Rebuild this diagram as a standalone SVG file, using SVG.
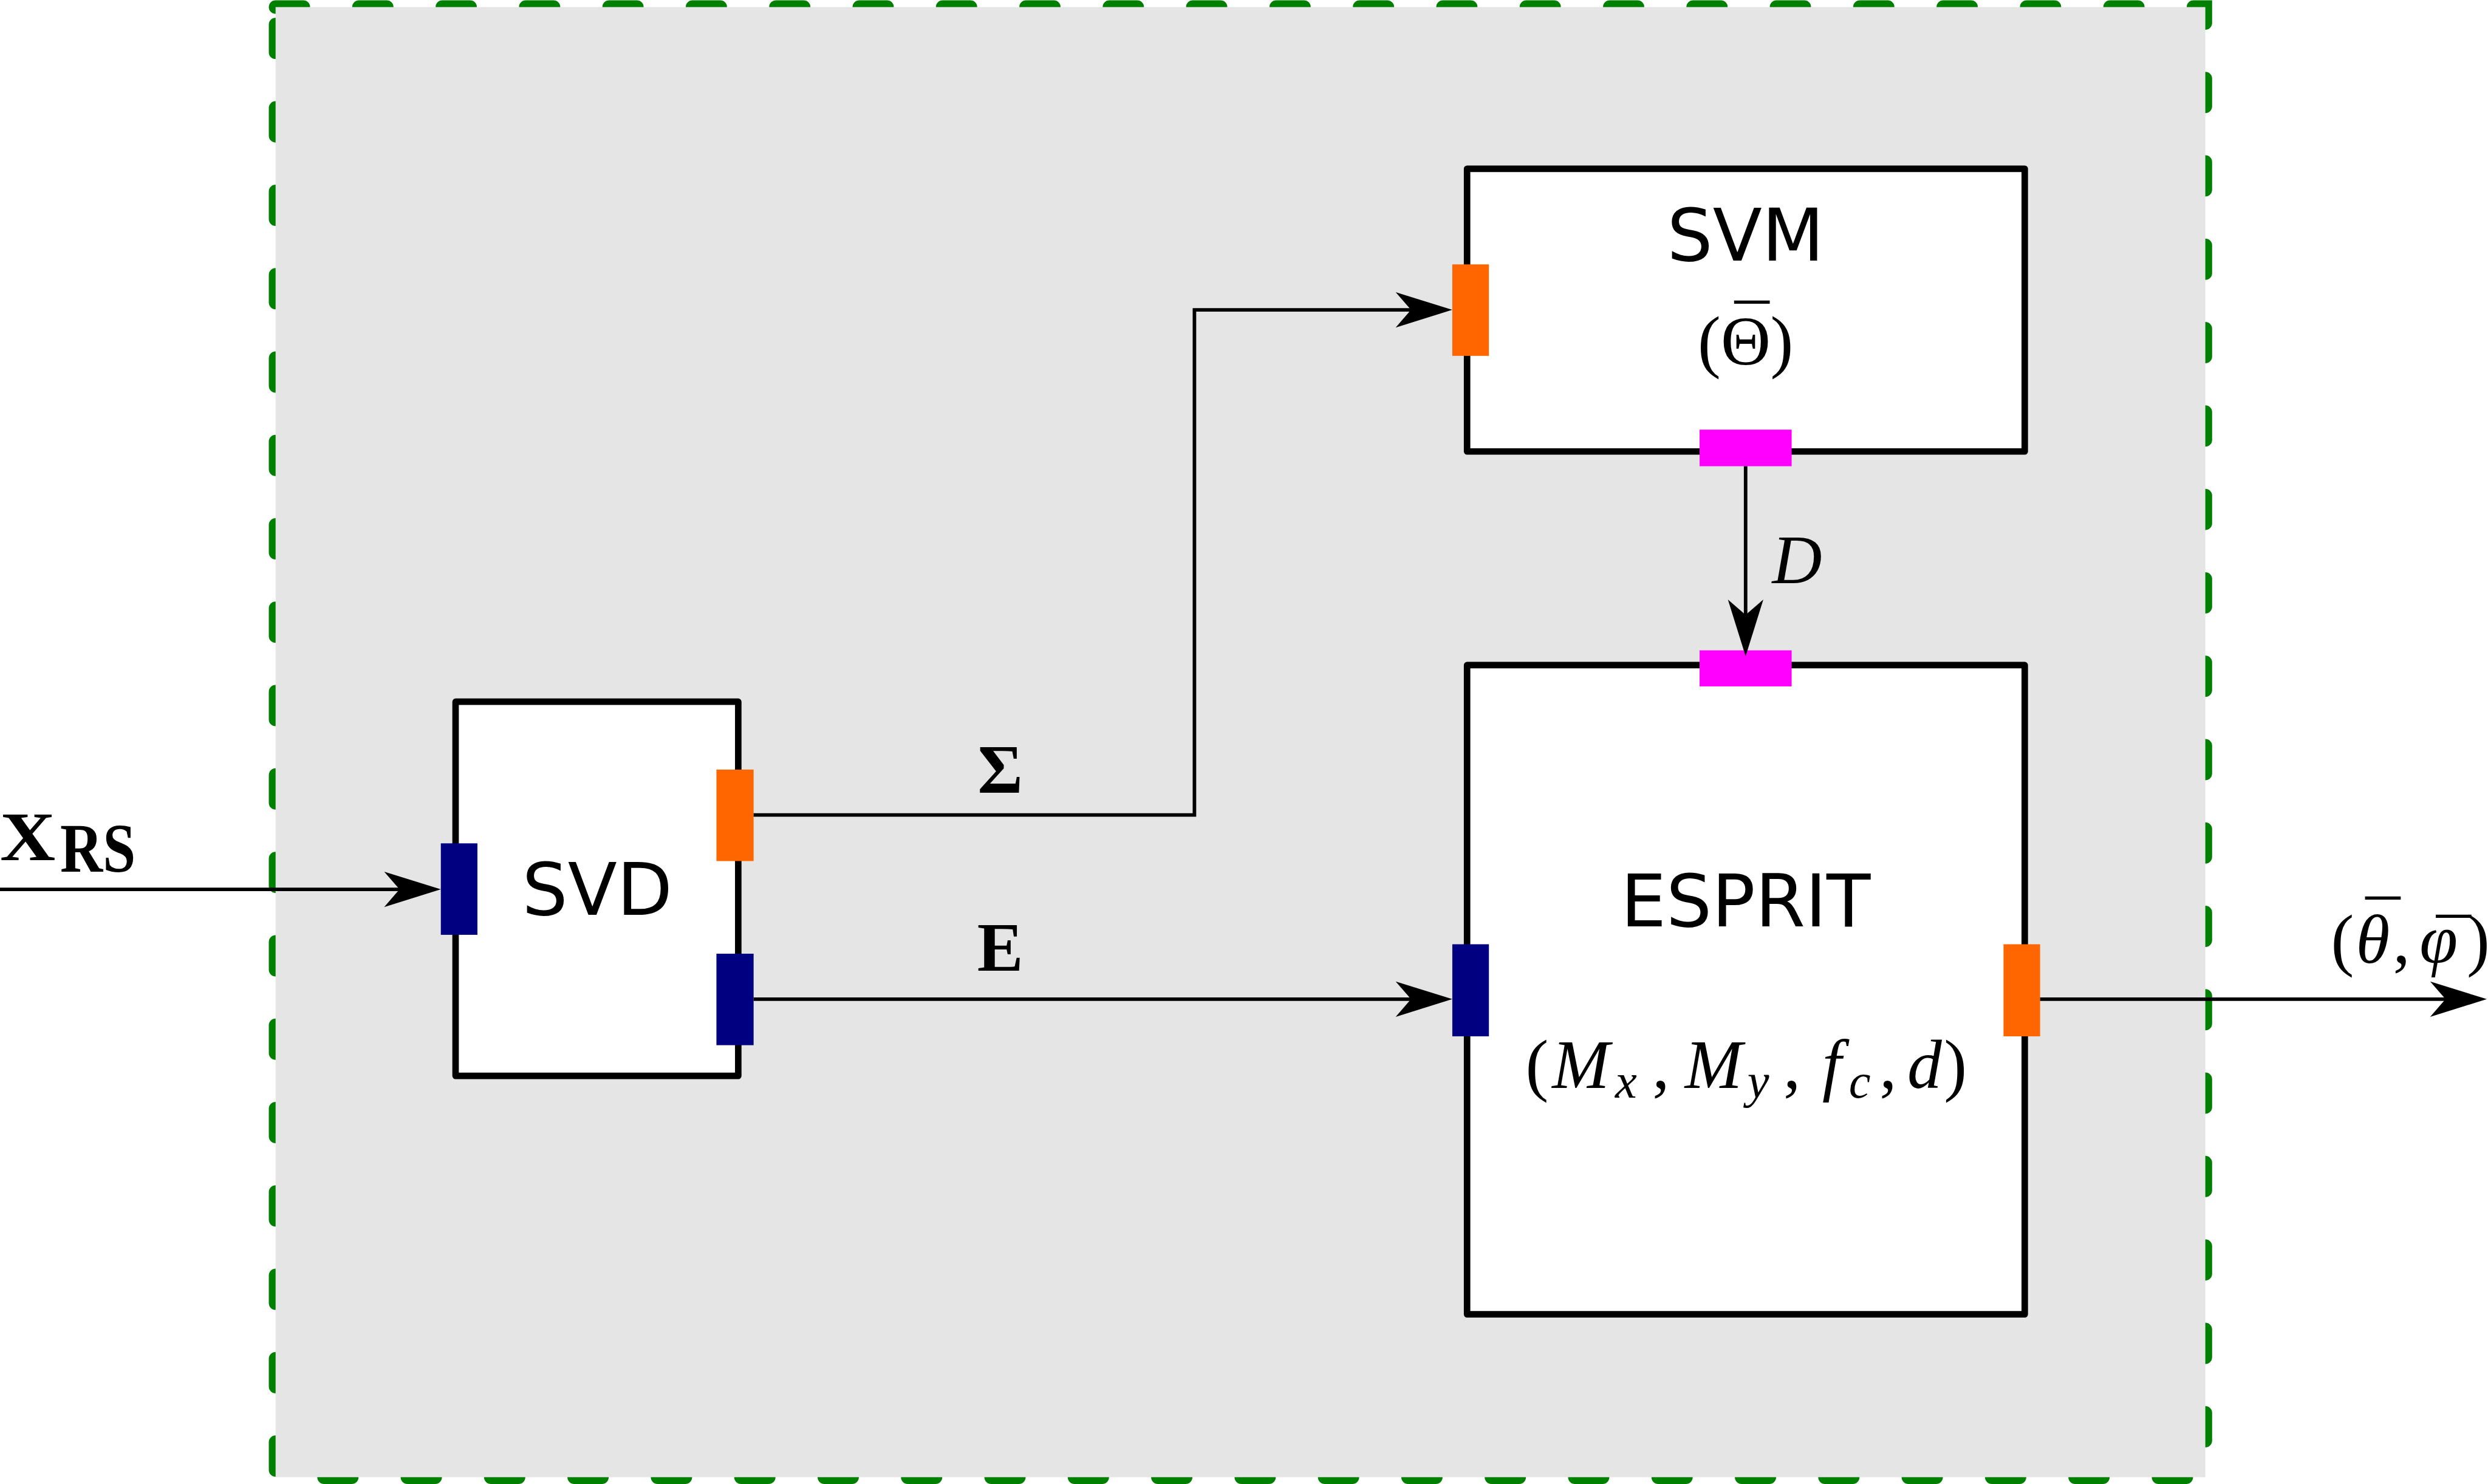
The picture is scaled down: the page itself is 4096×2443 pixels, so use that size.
<svg xmlns="http://www.w3.org/2000/svg" width="4096" height="2443" viewBox="0 0 4096 2443">
<style>
.frame{fill:none;stroke:#008000;stroke-width:23;stroke-dasharray:47 94.3;stroke-linecap:round}
.bg{fill:#e5e5e5}
.box{fill:#fff;stroke:#000;stroke-width:11;stroke-linejoin:round}
.po{fill:#ff6600}
.pn{fill:#000080}
.pm{fill:#ff00ff}
.sans{font-family:'DejaVu Sans',sans-serif;font-size:122px;fill:#000}
.math{font-family:'Liberation Serif','DejaVu Serif',serif;font-size:117px;fill:#000}
.it{font-style:italic}
.bf{font-weight:bold}
.conn{fill:none;stroke:#000;stroke-width:6;stroke-linejoin:miter}
</style>
<defs>
<marker id="arr" markerUnits="userSpaceOnUse" markerWidth="100" markerHeight="64" refX="76" refY="32" orient="auto" overflow="visible">
<path d="M0,2 L96,32 L0,62 L26,32 Z" fill="#000"/>
</marker>
</defs>
<rect width="4096" height="2443" fill="#fff"/>
<g transform="scale(0.97154)">
<g id="container">
<rect class="frame" x="467" y="12" width="3270" height="2491"/>
<rect class="bg" x="467" y="12" width="3270" height="2491"/>
</g>
<g id="svd">
<rect class="box" x="772" y="1189" width="479" height="634"/>
<text class="sans" x="1012" y="1550" text-anchor="middle">SVD</text>
<rect class="pn" x="747" y="1429" width="62" height="155"/>
<rect class="po" x="1214" y="1304" width="63" height="155"/>
<rect class="pn" x="1214" y="1616" width="63" height="155"/>
</g>
<g id="svm">
<rect class="box" x="2486" y="286" width="945" height="479"/>
<text class="sans" x="2958" y="442" text-anchor="middle">SVM</text>
<text class="math" y="618"><tspan x="2877">(</tspan><tspan x="2916">Θ</tspan><tspan x="3000">)</tspan><tspan x="2939.5" y="598">¯</tspan></text>
<rect class="po" x="2461" y="448" width="62" height="155"/>
<rect class="pm" x="2880" y="728" width="156" height="62"/>
</g>
<g id="esprit">
<rect class="box" x="2486" y="1127" width="945" height="1100"/>
<text class="sans" x="2958" y="1570" text-anchor="middle">ESPRIT</text>
<text class="math" y="1843"><tspan x="2585">(</tspan><tspan class="it" x="2630">M</tspan><tspan class="it" x="2737" y="1860" font-size="83">x</tspan><tspan x="2800" y="1843">,</tspan><tspan class="it" x="2855">M</tspan><tspan class="it" x="2961" y="1860" font-size="83">y</tspan><tspan x="3022" y="1843">,</tspan><tspan class="it" x="3088">f</tspan><tspan class="it" x="3133" y="1860" font-size="83">c</tspan><tspan x="3185" y="1843">,</tspan><tspan class="it" x="3232">d</tspan><tspan x="3294">)</tspan></text>
<rect class="pm" x="2880" y="1102" width="156" height="61"/>
<rect class="pn" x="2461" y="1600" width="62" height="156"/>
<rect class="po" x="3395" y="1600" width="62" height="156"/>
</g>
<g id="connectors">
<path class="conn" d="M0,1507 H727" marker-end="url(#arr)"/>
<path class="conn" d="M1277,1381 H2024 V525 H2441" marker-end="url(#arr)"/>
<path class="conn" d="M1277,1693 H2441" marker-end="url(#arr)"/>
<path class="conn" d="M2958,790 V1092" marker-end="url(#arr)"/>
<path class="conn" d="M3457,1693 H4194" marker-end="url(#arr)"/>
<text class="math bf" x="0" y="1457" textLength="94" lengthAdjust="spacingAndGlyphs">X</text>
<text class="math bf" x="102" y="1477" font-size="86" textLength="128" lengthAdjust="spacingAndGlyphs">RS</text>
<text class="math bf" x="1695" y="1343" text-anchor="middle">Σ</text>
<text class="math bf" x="1695" y="1645" text-anchor="middle">E</text>
<text class="math it" x="3003" y="988">D</text>
<text class="math" y="1631"><tspan x="3950">(</tspan><tspan class="it" x="3992">θ</tspan><tspan x="4055">,</tspan><tspan class="it" x="4100">φ</tspan><tspan x="4180">)</tspan><tspan x="4008.5" y="1608">¯</tspan><tspan x="4128.5" y="1639">¯</tspan></text>
</g>
</g>
</svg>
